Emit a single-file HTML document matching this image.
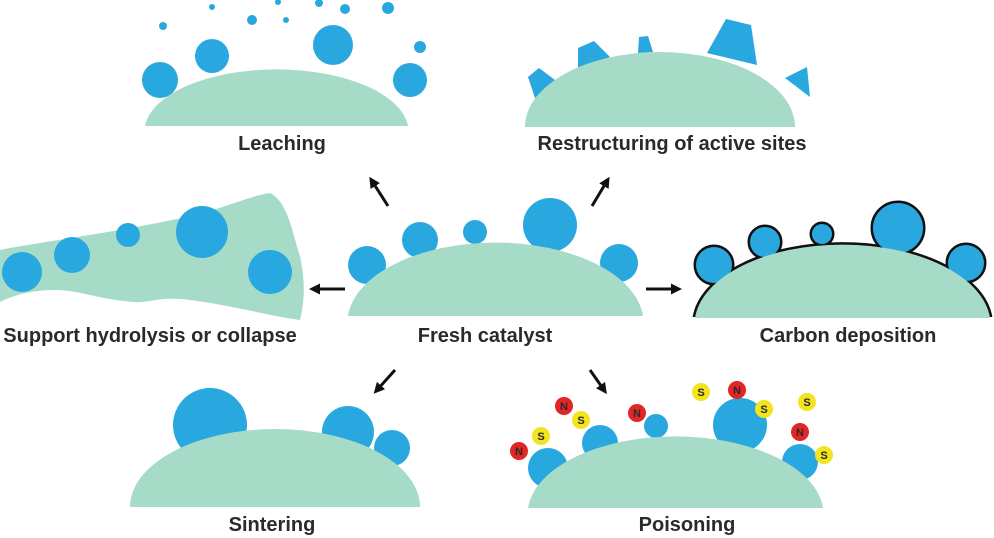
<!DOCTYPE html>
<html><head><meta charset="utf-8"><style>
html,body{margin:0;padding:0;background:#fff;}
svg{display:block;}
text{font-family:"Liberation Sans",sans-serif;font-size:20px;font-weight:bold;fill:#2a2a2a;text-anchor:middle;}
</style></head><body>
<svg width="994" height="538" viewBox="0 0 994 538" xmlns="http://www.w3.org/2000/svg">
<defs>
<marker id="ah" markerWidth="11" markerHeight="11" refX="6" refY="5.5" orient="auto" markerUnits="userSpaceOnUse"><path d="M0,0 L11,5.5 L0,11 Z" fill="#111"/></marker>
<clipPath id="cl"><rect x="0" y="0" width="994" height="317"/></clipPath>
</defs>
<g fill="#29a8e0">
<!-- Leaching -->
<circle cx="160" cy="80" r="18"/><circle cx="212" cy="56" r="17"/><circle cx="333" cy="45" r="20"/><circle cx="410" cy="80" r="17"/>
<circle cx="163" cy="26" r="4"/><circle cx="212" cy="7" r="3"/><circle cx="252" cy="20" r="5"/><circle cx="286" cy="20" r="3"/><circle cx="319" cy="3" r="4"/><circle cx="345" cy="9" r="5"/><circle cx="388" cy="8" r="6"/><circle cx="420" cy="47" r="6"/><circle cx="278" cy="2" r="3"/>
<!-- Restructuring -->
<polygon points="528,77 539,68 555,80 535,98"/><polygon points="578,48 594,41 610,57 578,70"/><polygon points="639,37 648,36 653,52 638,53"/><polygon points="707,53 726,19 751,25 757,65"/><polygon points="785,78 807,67 810,97"/>
<!-- Fresh -->
<circle cx="367" cy="265" r="19"/><circle cx="420" cy="240" r="18"/><circle cx="475" cy="232" r="12"/><circle cx="550" cy="225" r="27"/><circle cx="619" cy="263" r="19"/>
<!-- Sintering -->
<circle cx="210" cy="425" r="37"/><circle cx="348" cy="432" r="26"/><circle cx="392" cy="448" r="18"/>
<!-- Poisoning -->
<circle cx="548" cy="468" r="20"/><circle cx="600" cy="443" r="18"/><circle cx="656" cy="426" r="12"/><circle cx="740" cy="425" r="27"/><circle cx="800" cy="462" r="18"/>
</g>
<!-- Carbon deposition outline -->
<g fill="#111" stroke="#111" stroke-width="5" clip-path="url(#cl)">
<circle cx="714" cy="265" r="18"/><circle cx="765" cy="242" r="15"/><circle cx="822" cy="234" r="10"/><circle cx="898" cy="228" r="25"/><circle cx="966" cy="263" r="18"/>
<path d="M695 318 A148 80 0 0 1 990 318 Z"/>
</g>
<g fill="#29a8e0">
<circle cx="714" cy="265" r="18"/><circle cx="765" cy="242" r="15"/><circle cx="822" cy="234" r="10"/><circle cx="898" cy="228" r="25"/><circle cx="966" cy="263" r="18"/>
</g>
<g fill="#a6dbc7">
<path d="M145 126 A132 62 0 0 1 408 126 Z"/>
<path d="M525 127 A135 75 0 0 1 795 127 Z"/>
<path d="M348 316 A148 80 0 0 1 643 316 Z"/>
<path d="M695 318 A148 80 0 0 1 990 318 Z"/>
<path d="M130 507 A145 78 0 0 1 420 507 Z"/>
<path d="M528 508 A148 78 0 0 1 823 508 Z"/>
<path d="M0 250 C40 242 120 232 195 215 C230 206 250 196 270 193 C288 202 292 232 300 256 C305 280 305 300 300 320 C270 316 230 305 190 300 C160 296 150 303 135 302 C100 300 80 290 55 290 C30 290 12 296 0 302 Z"/>
</g>
<g fill="#29a8e0">
<circle cx="22" cy="272" r="20"/><circle cx="72" cy="255" r="18"/><circle cx="128" cy="235" r="12"/><circle cx="202" cy="232" r="26"/><circle cx="270" cy="272" r="22"/>
</g>
<!-- N / S -->
<g fill="#e22626"><circle cx="519" cy="451" r="9"/><circle cx="564" cy="406" r="9"/><circle cx="637" cy="413" r="9"/><circle cx="737" cy="390" r="9"/><circle cx="800" cy="432" r="9"/></g>
<g fill="#f2e41f"><circle cx="541" cy="436" r="9"/><circle cx="581" cy="420" r="9"/><circle cx="701" cy="392" r="9"/><circle cx="764" cy="409" r="9"/><circle cx="807" cy="402" r="9"/><circle cx="824" cy="455" r="9"/></g>
<g style="font-size:11px">
<text x="519" y="455" style="font-size:11px">N</text><text x="564" y="410" style="font-size:11px">N</text><text x="637" y="417" style="font-size:11px">N</text><text x="737" y="394" style="font-size:11px">N</text><text x="800" y="436" style="font-size:11px">N</text>
<text x="541" y="440" style="font-size:11px">S</text><text x="581" y="424" style="font-size:11px">S</text><text x="701" y="396" style="font-size:11px">S</text><text x="764" y="413" style="font-size:11px">S</text><text x="807" y="406" style="font-size:11px">S</text><text x="824" y="459" style="font-size:11px">S</text>
</g>
<!-- arrows -->
<g stroke="#111" stroke-width="3" marker-end="url(#ah)">
<line x1="388" y1="206" x2="372" y2="181"/>
<line x1="592" y1="206" x2="607" y2="181"/>
<line x1="345" y1="289" x2="314" y2="289"/>
<line x1="646" y1="289" x2="677" y2="289"/>
<line x1="395" y1="370" x2="377" y2="390"/>
<line x1="590" y1="370" x2="604" y2="390"/>
</g>
<!-- labels -->
<text x="282" y="150">Leaching</text>
<text x="672" y="150">Restructuring of active sites</text>
<text x="150" y="342">Support hydrolysis or collapse</text>
<text x="485" y="342">Fresh catalyst</text>
<text x="848" y="342">Carbon deposition</text>
<text x="272" y="531">Sintering</text>
<text x="687" y="531">Poisoning</text>
</svg>
</body></html>
